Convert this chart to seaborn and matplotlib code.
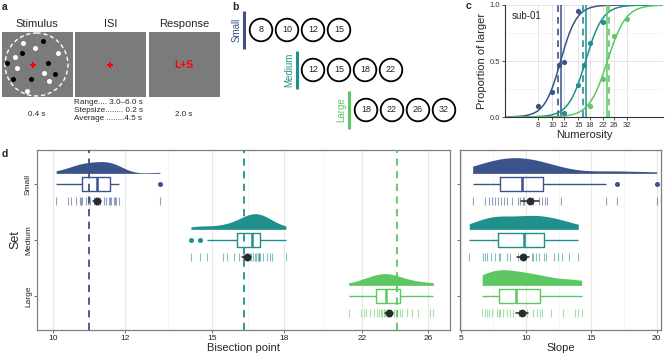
import numpy as np
import pandas as pd
import matplotlib
matplotlib.use('Agg')
import matplotlib.pyplot as plt
from matplotlib.patches import Rectangle, Circle
from matplotlib.ticker import FixedLocator, NullFormatter
import seaborn as sns

sns.set_theme(style='white')
plt.rcParams['font.family'] = ['Liberation Sans', 'DejaVu Sans']

W, H = 667, 353

# ---------------- data ----------------
sets = ['Small', 'Medium', 'Large']
set_colors = ['#3B528B', '#21908C', '#5DC863']
reference_points = [10.95, 16.25, 24.0]
numerosities = [[8, 10, 12, 15], [12, 15, 18, 22], [18, 22, 26, 32]]

# panel c (sub-01)
sub_x_small = [8, 10, 11.1, 12, 15]
sub_p_small = [0.10, 0.22, 0.46, 0.49, 0.95]
sub_x_medium = [12, 15, 16.5, 18, 22]
sub_p_medium = [0.04, 0.29, 0.46, 0.66, 0.845]
sub_x_large = [18, 22, 26, 32]
sub_p_large = [0.10, 0.34, 0.72, 0.875]
fit_bisection = [11.4, 16.8, 23.6]
fit_slope = [8.0, 7.5, 7.0]
numerosity_ticks = [8, 10, 12, 15, 18, 22, 26, 32]

# panel d (all subjects)
bisection_small = [10.08, 10.40, 10.47, 10.61, 10.70, 10.74, 10.78, 10.88, 10.93, 10.99, 11.09, 11.15,
                   11.21, 11.28, 11.38, 11.45, 11.52, 11.55, 11.60, 11.67, 11.72, 11.75, 11.82, 13.13]
bisection_medium = [14.21, 14.55, 14.79, 15.41, 15.58, 15.85, 16.05, 16.24, 16.40, 16.45, 16.53, 16.58,
                    16.63, 16.71, 16.79, 16.86, 16.90, 16.92, 16.94, 17.09, 17.25, 17.38, 17.49, 18.10]
bisection_large = [21.24, 21.92, 22.07, 22.22, 22.45, 22.68, 22.83, 22.93, 23.07, 23.15, 23.23, 23.33,
                   23.45, 23.55, 23.65, 23.83, 24.04, 24.20, 24.32, 24.66, 24.98, 25.37, 26.14, 26.36]
slope_small = [5.92, 6.86, 7.19, 7.37, 7.62, 7.88, 8.10, 8.31, 8.57, 8.90, 9.36, 9.55,
               9.80, 9.87, 10.20, 10.51, 11.00, 11.25, 11.45, 11.63, 12.65, 16.10, 16.98, 19.99]
slope_medium = [5.66, 6.73, 6.86, 7.04, 7.32, 7.62, 7.95, 8.01, 8.57, 8.77, 9.36, 9.80,
                9.95, 10.43, 10.55, 10.76, 11.01, 11.37, 11.50, 12.14, 12.47, 12.73, 13.31, 14.00]
slope_large = [6.65, 6.86, 7.04, 7.19, 7.37, 7.75, 7.95, 8.01, 8.26, 8.57, 8.77, 9.02,
               9.50, 9.70, 10.05, 10.55, 10.81, 11.05, 11.20, 11.89, 12.85, 13.75, 14.00, 14.26]
bisection_ticks = [10, 12, 15, 18, 22, 26]
slope_ticks = [5, 10, 15, 20]

n = len(bisection_small)
df = pd.DataFrame({
    'set': np.repeat(sets, n),
    'bisection': bisection_small + bisection_medium + bisection_large,
    'slope': slope_small + slope_medium + slope_large,
})
df['pos'] = df['set'].map({s: i for i, s in enumerate(sets)}).astype(float)
df['rug'] = df['pos'] + 0.30

# ---------------- figure ----------------
fig = plt.figure(figsize=(W / 100, H / 100), dpi=100)


def rect(x0, y0, x1, y1):
    return [x0 / W, 1 - y1 / H, (x1 - x0) / W, (y1 - y0) / H]


ov = fig.add_axes([0, 0, 1, 1])
ov.set_xlim(0, W)
ov.set_ylim(H, 0)
ov.axis('off')

# panel labels
for lab, (lx, ly) in zip('abcd', [(2, 7), (232, 7), (466, 6), (2, 154)]):
    ov.text(lx, ly, lab, fontsize=7.5, fontweight='bold', ha='left', va='center')

# ---- panel a ----
sq_x = [1.5, 74.5, 148.5]
sq_titles = ['Stimulus', 'ISI', 'Response']
for x0, t in zip(sq_x, sq_titles):
    ov.add_patch(Rectangle((x0, 32), 71.5, 65, facecolor='#7b7b7b', edgecolor='none'))
    ov.text(x0 + 35.75, 24, t, ha='center', va='center', fontsize=8)
black_dots_x = [6.7, 21.7, 42.7, 48.3, 55.0, 13.3, 31.0]
black_dots_y = [62.7, 52.7, 41.0, 63.3, 74.3, 79.3, 79.3]
white_dots_x = [22.7, 35.0, 58.3, 15.0, 16.7, 44.0, 49.3, 26.7]
white_dots_y = [42.7, 48.3, 52.7, 57.3, 68.3, 72.7, 81.0, 91.0]
ov.add_patch(Circle((36.5, 64.5), 31.5, fill=False, ec='white', lw=1.0, ls=(0, (3, 2))))
ov.scatter(black_dots_x, black_dots_y, s=13, color='black', lw=0)
ov.scatter(white_dots_x, white_dots_y, s=13, color='white', lw=0)
ov.plot([33.3, 110.2], [65, 65], ls='none', marker='+', ms=5, mew=1.4, color='red')
ov.text(184.2, 65, 'L+S', ha='center', va='center', fontsize=7.5, color='red', fontweight='bold')
ov.text(37, 114.5, '0.4 s', ha='center', va='center', fontsize=5.8)
ov.text(184, 114.5, '2.0 s', ha='center', va='center', fontsize=5.8)
for yy, s in zip([103, 110.7, 118.4], ['Range.... 3.0–6.0 s', 'Stepsize........ 0.2 s', 'Average ........4.5 s']):
    ov.text(74.5, yy, s, ha='left', va='center', fontsize=5.9)

# ---- panel b ----
bar_x = [243.5, 296.5, 348.5]
row_y = [30, 70, 110]
first_x = [261, 313, 366]
for i, s in enumerate(sets):
    c = set_colors[i]
    ov.plot([bar_x[i], bar_x[i]], [row_y[i] - 19, row_y[i] + 19], color=c, lw=2.2, solid_capstyle='butt')
    ov.text(bar_x[i] - 7, row_y[i], s, rotation=90, ha='center', va='center', fontsize=7, color=c)
    for j, num in enumerate(numerosities[i]):
        cx = first_x[i] + 26 * j
        ov.add_patch(Circle((cx, row_y[i]), 11.3, fill=False, ec='black', lw=1.3))
        ov.text(cx, row_y[i], str(num), ha='center', va='center', fontsize=6.5)

# ---- panel c ----
axc = fig.add_axes(rect(505, 5, 663, 117))
axc.set_xscale('log')
xs = np.geomspace(4.8, 56, 300)
sub_x = [sub_x_small, sub_x_medium, sub_x_large]
sub_p = [sub_p_small, sub_p_medium, sub_p_large]
for i in range(3):
    c = set_colors[i]
    curve = 1 / (1 + np.exp(-fit_slope[i] * (np.log(xs) - np.log(fit_bisection[i]))))
    sns.lineplot(x=xs, y=curve, color=c, lw=1.1, ax=axc)
    sns.scatterplot(x=sub_x[i], y=sub_p[i], color=c, s=14, lw=0, ax=axc, zorder=4)
    axc.axvline(reference_points[i], color=c, ls=(0, (4, 3)), lw=1.2)
    axc.axvline(fit_bisection[i], color=c, lw=1.1)
axc.set_xlim(4.8, 56)
axc.set_ylim(0, 1)
axc.xaxis.set_major_locator(FixedLocator(numerosity_ticks))
axc.xaxis.set_minor_locator(FixedLocator([]))
axc.set_xticklabels([str(t) for t in numerosity_ticks])
axc.xaxis.set_minor_formatter(NullFormatter())
axc.set_yticks([0, 0.5, 1.0])
axc.set_yticklabels(['0.0', '0.5', '1.0'])
axc.yaxis.set_minor_locator(FixedLocator([0.25, 0.75]))
axc.grid(True, which='major', color='#E5E5E5', lw=0.7)
axc.grid(True, which='minor', axis='y', color='#F0F0F0', lw=0.5)
axc.set_axisbelow(True)
for sp in ['top', 'right']:
    axc.spines[sp].set_visible(False)
for sp in ['left', 'bottom']:
    axc.spines[sp].set_color('#333333')
    axc.spines[sp].set_linewidth(0.8)
axc.tick_params(axis='both', which='major', labelsize=5.5, length=2, width=0.6, pad=1.5,
                color='#333333', labelcolor='#333333', bottom=True, left=True)
axc.tick_params(which='minor', length=0)
axc.set_xlabel('Numerosity', fontsize=8, labelpad=1)
axc.set_ylabel('Proportion of larger', fontsize=8, labelpad=2)
axc.text(0.04, 0.9, 'sub-01', transform=axc.transAxes, fontsize=7, ha='left', va='center')

# ---- panel d ----
axL = fig.add_axes(rect(37, 150, 450, 330))
axR = fig.add_axes(rect(460, 150, 661, 330))
axL.set_xscale('log')

violin_h_bis = [0.21, 0.28, 0.21]
violin_h_slope = [0.28, 0.25, 0.28]

for ax, var, vh in [(axL, 'bisection', violin_h_bis), (axR, 'slope', violin_h_slope)]:
    for i, s in enumerate(sets):
        c = set_colors[i]
        sub = df[df['set'] == s].copy()
        sub['vpos'] = sub['pos'] - 0.19 - vh[i] / 2
        sns.violinplot(data=sub, x=var, y='vpos', orient='h', native_scale=True, split=True,
                       inner=None, cut=0, density_norm='width', width=vh[i], color=c,
                       saturation=1, linewidth=0, ax=ax)
        sns.boxplot(data=sub, x=var, y='pos', orient='h', native_scale=True, dodge=False,
                    width=0.24, fill=False, color=c, saturation=1, linewidth=1.0, ax=ax,
                    medianprops=dict(linewidth=1.8),
                    capprops=dict(visible=False),
                    flierprops=dict(marker='o', markersize=2.6, markerfacecolor=c,
                                    markeredgecolor=c))
        sns.scatterplot(data=sub, x=var, y='rug', color=c, marker='|', s=30,
                        linewidth=0.8, alpha=0.55, legend=False, ax=ax)
    sns.pointplot(data=df, x=var, y='rug', orient='h', native_scale=True, errorbar='se',
                  color='#2a2a2a', markersize=3.5, linestyle='none', err_kws={'linewidth': 1.1},
                  ax=ax, zorder=6)
    ax.set_ylim(2.607, -0.607)
    ax.set_yticks([0, 1, 2])
    for sp in ax.spines.values():
        sp.set_color('#7f7f7f')
        sp.set_linewidth(0.9)
    ax.tick_params(axis='both', which='major', labelsize=6, length=2, width=0.6, pad=1.5,
                   color='#555555', labelcolor='#222222', bottom=True, left=True)
    ax.tick_params(which='minor', length=0)
    ax.set_axisbelow(True)

for i in range(3):
    axL.axvline(reference_points[i], color=set_colors[i], ls=(0, (4, 3)), lw=1.3, zorder=5)

axL.set_xlim(9.6, 27.5)
axL.xaxis.set_major_locator(FixedLocator(bisection_ticks))
axL.set_xticklabels([str(t) for t in bisection_ticks])
axL.xaxis.set_minor_locator(FixedLocator([10.95, 13.42, 16.43, 19.9, 23.92]))
axL.xaxis.set_minor_formatter(NullFormatter())
axL.set_yticklabels(sets, rotation=90, va='center')
axL.set_xlabel('Bisection point', fontsize=8, labelpad=0.5)
axL.set_ylabel('Set', fontsize=9, labelpad=3)

axR.set_xlim(4.95, 20.33)
axR.set_xticks(slope_ticks)
axR.xaxis.set_minor_locator(FixedLocator([7.5, 12.5, 17.5]))
axR.set_yticklabels([])
axR.set_xlabel('Slope', fontsize=8, labelpad=0.5)
axR.set_ylabel('')

for ax in (axL, axR):
    ax.grid(True, axis='x', which='major', color='#E8E8E8', lw=0.8)
    ax.grid(True, axis='x', which='minor', color='#F3F3F3', lw=0.5)
    ax.grid(False, axis='y')

fig.savefig('out.png', dpi=100)
